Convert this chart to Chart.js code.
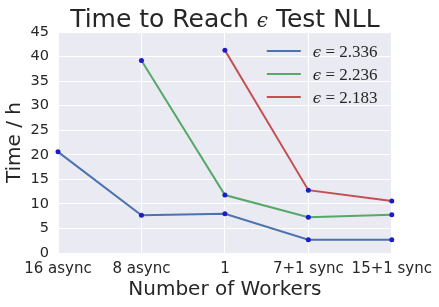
<!DOCTYPE html>
<html>
<head>
<meta charset="utf-8">
<script src="https://cdn.jsdelivr.net/npm/chart.js@4/dist/chart.umd.min.js"></script>
<style>
  html, body { margin: 0; padding: 0; background: #fff; }
  #wrap { width: 439px; height: 307px; }
</style>
</head>
<body>
<div id="wrap"><canvas id="timeChart"></canvas></div>
<script>
// Datos
const categories = ['16 async', '8 async', '1', '7+1 sync', '15+1 sync'];
const eps2336 = [20.6, 7.7, 8.0, 2.7, 2.7];
const eps2236 = [null, 39.2, 11.8, 7.3, 7.8];
const eps2183 = [null, null, 41.3, 12.8, 10.6];
const seriesLabels = ['ϵ = 2.336', 'ϵ = 2.236', 'ϵ = 2.183'];
const yTicks = [0, 5, 10, 15, 20, 25, 30, 35, 40, 45];

const textColor = '#262626';
const markerColor = '#1c1cc8';

// Fondo del área del gráfico
const plotBackground = {
    id: 'plotBackground',
    beforeDraw(chart) {
        const { ctx, chartArea: a } = chart;
        ctx.save();
        ctx.fillStyle = '#EAEAF2';
        ctx.fillRect(a.left, a.top, a.right - a.left, a.bottom - a.top);
        ctx.restore();
    }
};

// Dibuja un texto con el épsilon en cursiva serif
function drawEpsText(ctx, parts, x, y) {
    parts.forEach(p => {
        ctx.font = p.f;
        ctx.fillText(p.t, x, y);
        x += ctx.measureText(p.t).width;
    });
}

// Título con el épsilon en cursiva
const titlePlugin = {
    id: 'titlePlugin',
    afterDraw(chart) {
        const { ctx, chartArea: a } = chart;
        const parts = [
            { t: 'Time to Reach ', f: '25px "DejaVu Sans"' },
            { t: 'ϵ', f: 'italic 20px "DejaVu Serif"' },
            { t: ' Test NLL', f: '25px "DejaVu Sans"' }
        ];
        ctx.save();
        ctx.fillStyle = textColor;
        ctx.textBaseline = 'alphabetic';
        let total = 0;
        parts.forEach(p => { ctx.font = p.f; total += ctx.measureText(p.t).width; });
        drawEpsText(ctx, parts, (a.left + a.right) / 2 - total / 2, 27);
        ctx.restore();
    }
};

// Leyenda dentro del área, arriba a la derecha
const legendInside = {
    id: 'legendInside',
    afterDraw(chart) {
        const { ctx, chartArea: a } = chart;
        ctx.save();
        chart.data.datasets.forEach((ds, i) => {
            const y = a.top + 19 + i * 23;
            ctx.strokeStyle = ds.borderColor;
            ctx.lineWidth = 2;
            ctx.beginPath();
            ctx.moveTo(a.right - 125, y);
            ctx.lineTo(a.right - 91, y);
            ctx.stroke();
            ctx.fillStyle = textColor;
            ctx.textBaseline = 'alphabetic';
            const eps = ds.label.slice(0, 1);
            const rest = ds.label.slice(1);
            drawEpsText(ctx, [
                { t: eps, f: 'italic 15px "DejaVu Serif"' },
                { t: rest, f: '17px "Liberation Serif"' }
            ], a.right - 79, y + 6);
        });
        ctx.restore();
    }
};

function makeSet(label, data, color) {
    return {
        label: label,
        data: data,
        borderColor: color,
        backgroundColor: color,
        borderWidth: 2,
        tension: 0,
        pointRadius: 2.5,
        pointBackgroundColor: markerColor,
        pointBorderColor: markerColor,
        pointBorderWidth: 0
    };
}

const ctx = document.getElementById('timeChart').getContext('2d');
new Chart(ctx, {
    type: 'line',
    data: {
        labels: categories,
        datasets: [
            makeSet(seriesLabels[0], eps2336, '#4C72B0'),
            makeSet(seriesLabels[1], eps2236, '#55A868'),
            makeSet(seriesLabels[2], eps2183, '#C44E52')
        ]
    },
    options: {
        responsive: true,
        maintainAspectRatio: false,
        animation: false,
        layout: { padding: { top: 32, right: 47, left: 0, bottom: 0 } },
        plugins: {
            legend: { display: false },
            title: { display: false },
            tooltip: { enabled: false }
        },
        scales: {
            x: {
                offset: false,
                grid: { color: '#ffffff', lineWidth: 1, drawTicks: false },
                border: { display: false },
                ticks: { color: textColor, font: { family: 'DejaVu Sans', size: 15 }, padding: 7, maxRotation: 0, autoSkip: false },
                title: { display: true, text: 'Number of Workers', color: textColor, font: { family: 'DejaVu Sans', size: 20 }, padding: { top: 0, bottom: 5 } },
                afterFit(scale) { scale.height = 54; }
            },
            y: {
                min: 0,
                max: 45,
                afterBuildTicks(scale) { scale.ticks = yTicks.map(v => ({ value: v })); },
                grid: { color: '#ffffff', lineWidth: 1, drawTicks: false },
                border: { display: false },
                ticks: { color: textColor, font: { family: 'DejaVu Sans', size: 14.5 }, padding: 9 },
                title: { display: true, text: 'Time / h', color: textColor, font: { family: 'DejaVu Sans', size: 20 }, padding: { top: 3, bottom: 0 } },
                afterFit(scale) { scale.width = 58; }
            }
        }
    },
    plugins: [plotBackground, titlePlugin, legendInside]
});
</script>
</body>
</html>
